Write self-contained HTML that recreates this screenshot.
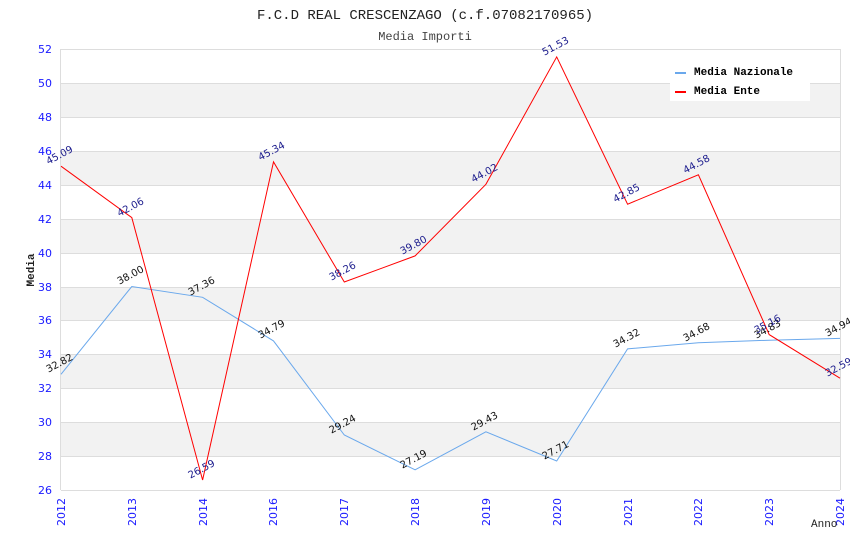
<!DOCTYPE html>
<html><head><meta charset="utf-8"><style>body{margin:0;background:#fff}svg{display:block}</style></head><body>
<svg width="850" height="550" xmlns="http://www.w3.org/2000/svg">
<rect width="850" height="550" fill="#fff"/>
<g fill="#f2f2f2">
<rect x="61" y="83" width="779" height="34"/><rect x="61" y="151" width="779" height="34"/>
<rect x="61" y="219" width="779" height="34"/><rect x="61" y="287" width="779" height="34"/>
<rect x="61" y="354" width="779" height="34"/><rect x="61" y="422" width="779" height="34"/>
</g>
<g stroke="#ddd" stroke-width="1">
<line x1="61" y1="49.5" x2="840" y2="49.5"/><line x1="61" y1="83.5" x2="840" y2="83.5"/><line x1="61" y1="117.5" x2="840" y2="117.5"/><line x1="61" y1="151.5" x2="840" y2="151.5"/><line x1="61" y1="185.5" x2="840" y2="185.5"/><line x1="61" y1="219.5" x2="840" y2="219.5"/><line x1="61" y1="253.5" x2="840" y2="253.5"/><line x1="61" y1="287.5" x2="840" y2="287.5"/><line x1="61" y1="320.5" x2="840" y2="320.5"/><line x1="61" y1="354.5" x2="840" y2="354.5"/><line x1="61" y1="388.5" x2="840" y2="388.5"/><line x1="61" y1="422.5" x2="840" y2="422.5"/><line x1="61" y1="456.5" x2="840" y2="456.5"/><line x1="61" y1="490.5" x2="840" y2="490.5"/>
<line x1="60.5" y1="49" x2="60.5" y2="490"/><line x1="840.5" y1="49" x2="840.5" y2="490"/>
</g>
<g font-family="DejaVu Sans, sans-serif" font-size="11" fill="#1a1aff" text-anchor="end">
<text x="52" y="53">52</text><text x="52" y="87">50</text><text x="52" y="121">48</text><text x="52" y="155">46</text><text x="52" y="189">44</text><text x="52" y="223">42</text><text x="52" y="257">40</text><text x="52" y="291">38</text><text x="52" y="324">36</text><text x="52" y="358">34</text><text x="52" y="392">32</text><text x="52" y="426">30</text><text x="52" y="460">28</text><text x="52" y="494">26</text>
</g>
<g font-family="DejaVu Sans, sans-serif" font-size="11" fill="#1a1aff" text-anchor="end">
<text transform="translate(65,498) rotate(-90)">2012</text>
<text transform="translate(136,498) rotate(-90)">2013</text>
<text transform="translate(207,498) rotate(-90)">2014</text>
<text transform="translate(277,498) rotate(-90)">2016</text>
<text transform="translate(348,498) rotate(-90)">2017</text>
<text transform="translate(419,498) rotate(-90)">2018</text>
<text transform="translate(490,498) rotate(-90)">2019</text>
<text transform="translate(561,498) rotate(-90)">2020</text>
<text transform="translate(632,498) rotate(-90)">2021</text>
<text transform="translate(702,498) rotate(-90)">2022</text>
<text transform="translate(773,498) rotate(-90)">2023</text>
<text transform="translate(844,498) rotate(-90)">2024</text>
</g>
<text x="425" y="19" font-family="Liberation Mono, monospace" font-size="14" fill="#222" text-anchor="middle">F.C.D REAL CRESCENZAGO (c.f.07082170965)</text>
<text x="425" y="40" font-family="Liberation Mono, monospace" font-size="12" fill="#444" text-anchor="middle">Media Importi</text>
<text transform="translate(34,270) rotate(-90)" font-family="Liberation Mono, monospace" font-size="11" font-weight="bold" fill="#222" text-anchor="middle">Media</text>
<text x="811" y="527" font-family="Liberation Mono, monospace" font-size="11" fill="#222">Anno</text>
<polyline fill="none" stroke="#6aa8ec" stroke-width="1" points="61,374.3 131.8,286.5 202.6,297.3 273.5,340.9 344.3,435 415.1,469.8 485.9,431.8 556.7,461 627.6,348.9 698.4,342.8 769.2,340.2 840,338.4"/>
<polyline fill="none" stroke="#f00" stroke-width="1" points="61,166.2 131.8,217.6 202.6,480 273.5,161.9 344.3,282 415.1,255.9 485.9,184.3 556.7,56.9 627.6,204.2 698.4,174.8 769.2,334.6 840,378.2"/>
<g font-family="DejaVu Sans, sans-serif" font-size="10" fill="#111" text-anchor="middle">
<text transform="translate(61,366) rotate(-28)">32.82</text>
<text transform="translate(132,278) rotate(-28)">38.00</text>
<text transform="translate(203,289) rotate(-28)">37.36</text>
<text transform="translate(273,332) rotate(-28)">34.79</text>
<text transform="translate(344,427) rotate(-28)">29.24</text>
<text transform="translate(415,462) rotate(-28)">27.19</text>
<text transform="translate(486,424) rotate(-28)">29.43</text>
<text transform="translate(557,453) rotate(-28)">27.71</text>
<text transform="translate(628,341) rotate(-28)">34.32</text>
<text transform="translate(698,335) rotate(-28)">34.68</text>
<text transform="translate(769,332) rotate(-28)">34.83</text>
<text transform="translate(840,330) rotate(-28)">34.94</text>
</g>
<g font-family="DejaVu Sans, sans-serif" font-size="10" fill="#1a1a8c" text-anchor="middle">
<text transform="translate(61,158) rotate(-28)">45.09</text>
<text transform="translate(132,210) rotate(-28)">42.06</text>
<text transform="translate(203,472) rotate(-28)">26.59</text>
<text transform="translate(273,154) rotate(-28)">45.34</text>
<text transform="translate(344,274) rotate(-28)">38.26</text>
<text transform="translate(415,248) rotate(-28)">39.80</text>
<text transform="translate(486,176) rotate(-28)">44.02</text>
<text transform="translate(557,49) rotate(-28)">51.53</text>
<text transform="translate(628,196) rotate(-28)">42.85</text>
<text transform="translate(698,167) rotate(-28)">44.58</text>
<text transform="translate(769,327) rotate(-28)">35.16</text>
<text transform="translate(840,370) rotate(-28)">32.59</text>
</g>
<rect x="670" y="58" width="140" height="43" fill="#fff"/>
<rect x="675" y="72" width="11" height="2" fill="#6aa8ec"/>
<rect x="675" y="91" width="11" height="2" fill="#f00"/>
<g font-family="Liberation Mono, monospace" font-size="11" font-weight="bold" fill="#000">
<text x="694" y="75">Media Nazionale</text>
<text x="694" y="94">Media Ente</text>
</g>
</svg>
</body></html>
